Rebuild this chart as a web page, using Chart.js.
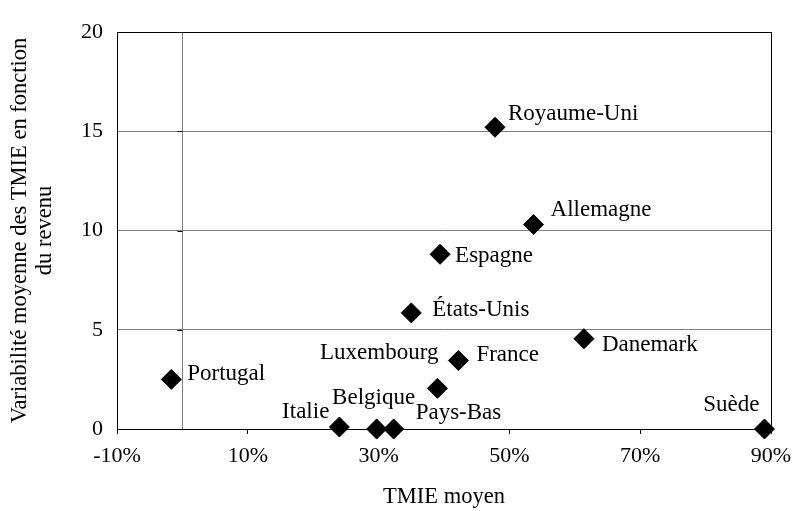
<!DOCTYPE html>
<html lang="fr">
<head>
<meta charset="utf-8">
<title>TMIE moyen et variabilité</title>
<script src="https://cdn.jsdelivr.net/npm/chart.js@4.4.0/dist/chart.umd.min.js"></script>
<style>
    html, body { margin: 0; padding: 0; background: #fff; }
    canvas { display: block; }
</style>
</head>
<body>
<canvas id="tmie-chart" width="793" height="511"></canvas>
<script>
// Data
const countries = ['Portugal', 'Italie', 'Belgique', 'Pays-Bas', 'Luxembourg', 'France',
    'États-Unis', 'Espagne', 'Allemagne', 'Royaume-Uni', 'Danemark', 'Suède'];
const tmieMoyen = [-1.7, 24.0, 29.7, 32.3, 39.0, 42.2, 35.0, 39.4, 53.7, 47.8, 61.4, 89.0];
const variabilite = [2.5, 0.1, 0, 0, 2.05, 3.45, 5.85, 8.8, 10.3, 15.2, 4.55, 0];
const xTitle = 'TMIE moyen';
const yTitle = ['Variabilité moyenne des TMIE en fonction', 'du revenu'];

// where each country name sits relative to its marker
const labelPlacement = {
    'Portugal':    { dx: 16,  dy: -5,  align: 'left' },
    'Italie':      { dx: -10, dy: -15, align: 'right' },
    'Belgique':    { dx: -3,  dy: -31, align: 'center' },
    'Pays-Bas':    { dx: 22,  dy: -16, align: 'left' },
    'Luxembourg':  { dx: 1,   dy: -35, align: 'right' },
    'France':      { dx: 18,  dy: -6,  align: 'left' },
    'États-Unis':  { dx: 21,  dy: -3,  align: 'left' },
    'Espagne':     { dx: 15,  dy: 2,   align: 'left' },
    'Allemagne':   { dx: 17,  dy: -15, align: 'left' },
    'Royaume-Uni': { dx: 13,  dy: -13, align: 'left' },
    'Danemark':    { dx: 18,  dy: 6,   align: 'left' },
    'Suède':       { dx: -5,  dy: -24, align: 'right' }
};

const FONT = "'Liberation Serif', 'Times New Roman', serif";
const GRID_GREY = '#808080';

// frame, the 0% axis line and the country names
const chartDecor = {
    id: 'chartDecor',
    beforeDatasetsDraw(chart) {
        const { ctx, chartArea: a, scales: { x, y } } = chart;
        ctx.save();
        // vertical axis at x = 0
        const x0 = Math.round(x.getPixelForValue(0)) + 0.5;
        ctx.strokeStyle = GRID_GREY;
        ctx.lineWidth = 1;
        ctx.beginPath();
        ctx.moveTo(x0, a.top);
        ctx.lineTo(x0, a.bottom);
        ctx.stroke();
        // its small tick marks
        ctx.strokeStyle = '#000';
        y.ticks.forEach(t => {
            const py = Math.round(y.getPixelForValue(t.value)) + 0.5;
            ctx.beginPath();
            ctx.moveTo(x0 - 5, py);
            ctx.lineTo(x0, py);
            ctx.stroke();
        });
        // black frame around the plot area
        ctx.strokeStyle = '#000';
        ctx.strokeRect(Math.round(a.left) + 0.5, Math.round(a.top) + 0.5,
            Math.round(a.width), Math.round(a.height));
        ctx.restore();
    },
    afterDatasetsDraw(chart) {
        const { ctx } = chart;
        const meta = chart.getDatasetMeta(0);
        ctx.save();
        ctx.font = `23px ${FONT}`;
        ctx.fillStyle = '#000';
        ctx.textBaseline = 'middle';
        meta.data.forEach((pt, i) => {
            const name = countries[i];
            const p = labelPlacement[name] || { dx: 12, dy: 0, align: 'left' };
            ctx.textAlign = p.align;
            ctx.fillText(name, pt.x + p.dx, pt.y + p.dy);
        });
        ctx.restore();
    }
};

new Chart(document.getElementById('tmie-chart'), {
    type: 'scatter',
    data: {
        labels: countries,
        datasets: [{
            label: 'Pays',
            data: tmieMoyen.map((v, i) => ({ x: v, y: variabilite[i] })),
            pointStyle: 'rectRot',
            pointRadius: 10,
            pointHoverRadius: 10,
            backgroundColor: '#000',
            borderColor: '#000',
            borderWidth: 1,
            clip: false
        }]
    },
    options: {
        responsive: false,
        animation: false,
        layout: {
            padding: { top: 32, right: 22, left: 0, bottom: 0 }
        },
        plugins: {
            legend: { display: false },
            tooltip: { enabled: false }
        },
        scales: {
            x: {
                type: 'linear',
                min: -10,
                max: 90,
                afterFit: (scale) => {
                    scale.height = 82;
                    // end labels may overhang, keep the plot width fixed
                    scale.paddingLeft = 0;
                    scale.paddingRight = 0;
                },
                ticks: {
                    stepSize: 20,
                    padding: 9,
                    color: '#000',
                    font: { family: FONT, size: 22 },
                    callback: (v) => v + '%'
                },
                grid: {
                    drawOnChartArea: false,
                    color: '#000',
                    tickLength: 5
                },
                border: { color: '#000', width: 1 },
                title: {
                    display: true,
                    text: xTitle,
                    color: '#000',
                    font: { family: FONT, size: 22.5 },
                    padding: { top: 0, bottom: 0 }
                }
            },
            y: {
                type: 'linear',
                min: 0,
                max: 20,
                afterFit: (scale) => {
                    scale.width = 117;
                    scale.paddingTop = 0;
                    scale.paddingBottom = 0;
                },
                ticks: {
                    stepSize: 5,
                    padding: 14,
                    color: '#000',
                    font: { family: FONT, size: 22 }
                },
                grid: {
                    drawTicks: false,
                    color: (c) => (c.tick && c.tick.value > 0 && c.tick.value < 20) ? GRID_GREY : 'rgba(0,0,0,0)'
                },
                border: { color: '#000', width: 1 },
                title: {
                    display: true,
                    text: yTitle,
                    color: '#000',
                    font: { family: FONT, size: 22.5, lineHeight: 1.1 },
                    padding: { top: 8, bottom: 0 }
                }
            }
        }
    },
    plugins: [chartDecor]
});
</script>
</body>
</html>
